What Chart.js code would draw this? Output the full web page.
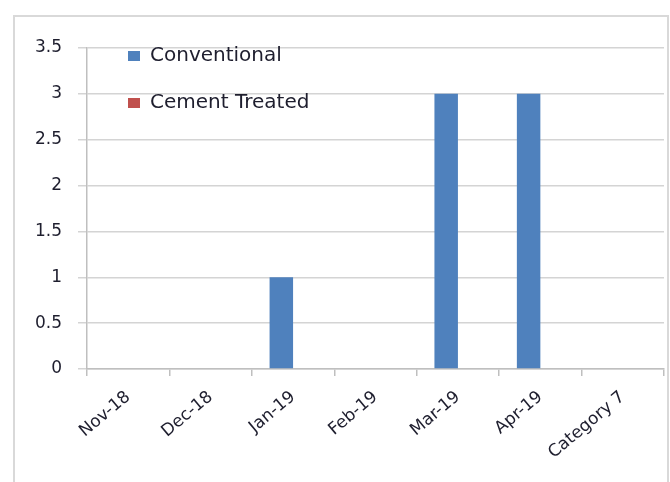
<!DOCTYPE html>
<html>
<head>
<meta charset="utf-8">
<script src="https://cdn.jsdelivr.net/npm/chart.js@4"></script>
<style>
  body { margin: 0; background: #fff; }
  #frame { position: absolute; left: 13px; top: 15px; width: 652px; height: 480px; border: 2px solid #d9d9d9; }
  #wrap { position: absolute; left: 0; top: 0; width: 670px; height: 482px; }
</style>
</head>
<body>
<div id="frame"></div>
<div id="wrap"><canvas id="js--chart"></canvas></div>
<script>
const categories = ["Nov-18", "Dec-18", "Jan-19", "Feb-19", "Mar-19", "Apr-19", "Category 7"];
const conventional = [0, 0, 1, 0, 3, 3, 0];
const cementTreated = [0, 0, 0, 0, 0, 0, 0];
const yTicks = [0, 0.5, 1, 1.5, 2, 2.5, 3, 3.5];

const font = "'DejaVu Sans', sans-serif";

// legend drawn inside the plot, like the original
const insideLegend = {
    id: "insideLegend",
    afterDraw: function(chart){
        const ctx = chart.ctx;
        const left = chart.chartArea.left + 41;
        const top = chart.chartArea.top;
        ctx.save();
        ctx.font = "20px " + font;
        ctx.textBaseline = "middle";
        chart.data.datasets.forEach(function(ds, i){
            const y = top + 8 + i * 47;
            ctx.fillStyle = ds.backgroundColor;
            ctx.fillRect(left, y - 5, 12, 10);
            ctx.fillStyle = "#1e1e2e";
            ctx.fillText(ds.label, left + 22, y);
        });
        ctx.restore();
    }
};

const chartData = {
    labels: categories,
    datasets: [
        {
            label: "Conventional",
            data: conventional,
            backgroundColor: "#4f81bd"
        },
        {
            label: "Cement Treated",
            data: cementTreated,
            backgroundColor: "#c0504d"
        }
    ]
};

const config = {
    type: "bar",
    data: chartData,
    plugins: [insideLegend],
    options: {
        responsive: true,
        maintainAspectRatio: false,
        animation: false,
        layout: { padding: { left: 0, top: 48, right: 6, bottom: 0 } },
        categoryPercentage: 0.57,
        barPercentage: 1,
        plugins: {
            legend: { display: false },
            tooltip: { enabled: false }
        },
        scales: {
            x: {
                grid: { drawOnChartArea: false, color: "#bfbfbf", lineWidth: 1.5, tickLength: 7 },
                border: { color: "#bfbfbf", width: 1.5 },
                ticks: {
                    color: "#1e1e2e",
                    font: { family: font, size: 17 },
                    minRotation: 40,
                    maxRotation: 40,
                    padding: 11
                },
                afterFit: function(scale){ scale.height = 113; }
            },
            y: {
                min: 0,
                max: 3.5,
                afterBuildTicks: function(scale){
                    scale.ticks = yTicks.map(function(v){ return { value: v }; });
                },
                grid: { color: "#d4d4d4", lineWidth: 1.5, tickLength: 9 },
                border: { color: "#bfbfbf", width: 1.5 },
                ticks: {
                    color: "#1e1e2e",
                    font: { family: font, size: 17 },
                    padding: 16,
                    callback: function(value){ return String(value); }
                },
                afterFit: function(scale){ scale.width = 87; }
            }
        }
    }
};

const chart = new Chart(document.getElementById("js--chart"), config);
</script>
</body>
</html>
